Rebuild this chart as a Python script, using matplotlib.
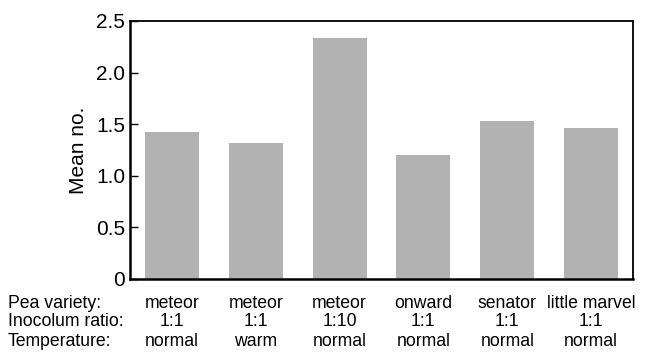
import matplotlib
matplotlib.use("Agg")
import matplotlib.pyplot as plt
import matplotlib.transforms as mtransforms

plt.rcParams['font.family'] = ['Liberation Sans', 'DejaVu Sans']

varieties = ["meteor", "meteor", "meteor", "onward", "senator", "little marvel"]
ratios = ["1:1", "1:1", "1:10", "1:1", "1:1", "1:1"]
temps = ["normal", "warm", "normal", "normal", "normal", "normal"]
values = [1.42, 1.32, 2.34, 1.20, 1.53, 1.46]
yticks = [0, 0.5, 1.0, 1.5, 2.0, 2.5]
ytick_labels = ["0", "0.5", "1.0", "1.5", "2.0", "2.5"]
row_titles = ["Pea variety:", "Inocolum ratio:", "Temperature:"]

fig = plt.figure(figsize=(6.45, 3.55), dpi=100)
ax = fig.add_axes([130/645, 1-279/355, 503/645, 258/355])

x = list(range(len(values)))
ax.bar(x, values, width=0.645, color="#b2b2b2", edgecolor="none")
ax.set_xlim(-0.5, 5.5)
ax.set_ylim(0, 2.5)
ax.set_yticks(yticks)
ax.set_yticklabels(ytick_labels, fontsize=15)
ax.set_xticks([])
ax.tick_params(axis='y', direction='in', length=6, width=1, pad=3.5)
ax.set_ylabel("Mean no.", fontsize=15, labelpad=6)
for s in ax.spines.values():
    s.set_linewidth(1.3)
ax.spines['left'].set_linewidth(1.8)
ax.spines['bottom'].set_linewidth(1.8)

trans = mtransforms.blended_transform_factory(ax.transData, fig.transFigure)
rows_y = [1-303/355, 1-322/355, 1-341/355]
for ry, title, labels in zip(rows_y, row_titles, [varieties, ratios, temps]):
    fig.text(8/645, ry, title, fontsize=12.7, ha='left', va='center')
    for xi, lab in zip(x, labels):
        ax.text(xi, ry, lab, transform=trans, fontsize=12.7, ha='center', va='center')

fig.savefig("out.png", dpi=100)
